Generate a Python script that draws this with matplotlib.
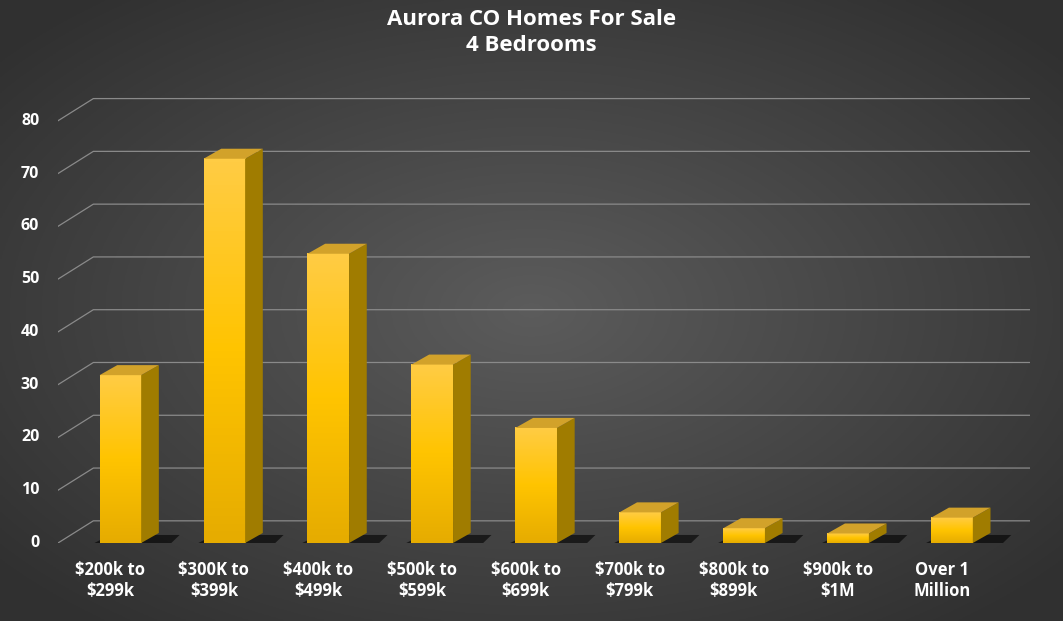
import numpy as np
import matplotlib
matplotlib.use("Agg")
import matplotlib.pyplot as plt
from matplotlib.patches import Polygon
from matplotlib.colors import LinearSegmentedColormap

plt.rcParams['font.family'] = ['Open Sans', 'DejaVu Sans']

categories = ["$200k to\n$299k", "$300K to\n$399k", "$400k to\n$499k", "$500k to\n$599k",
              "$600k to\n$699k", "$700k to\n$799k", "$800k to\n$899k", "$900k to\n$1M",
              "Over 1\nMillion"]
counts = [31, 72, 54, 33, 21, 5, 2, 1, 4]
yticks = [0, 10, 20, 30, 40, 50, 60, 70, 80]

fig = plt.figure(figsize=(10.63, 6.21), dpi=100)

# background radial gradient
bg = fig.add_axes([0, 0, 1, 1])
gx, gy = np.meshgrid(np.linspace(-1, 1, 400), np.linspace(-1, 1, 300))
r = np.sqrt(gx**2 + gy**2)
shade = 0.36 - 0.17 * np.clip(r / 1.3, 0, 1)
bg.imshow(np.dstack([shade] * 3), aspect='auto', extent=[0, 1, 0, 1])
bg.axis('off')

ax = fig.add_axes([58 / 1063, 78 / 621, (1030 - 58) / 1063, (543 - 97) / 621])
ax.axis('off')

x0 = -0.6
wx, wy = 0.34, 4.2   # back wall offset
dx, dy = 0.17, 1.9   # bar depth offset
w = 0.4

# gridlines
for v in yticks:
    ax.plot([x0, x0 + wx, 8.75], [v, v + wy, v + wy], color='#8a8a8a', lw=0.9, zorder=1)
    ax.text(x0 - 0.18, v, str(v), color='white', fontsize=11.5, fontweight='bold',
            ha='right', va='center')

# bars
gradient = np.linspace(0, 1, 100).reshape(-1, 1)
cmap = LinearSegmentedColormap.from_list('gold', ['#E6AC00', '#FFC400', '#FFCC44'])
for i, v in enumerate(counts):
    v = v + 0.8  # front face sits slightly behind the front plane
    l, rgt = i - w / 2, i + w / 2
    ax.add_patch(Polygon([(l - 0.05, 0), (rgt + dx + 0.12, 0), (rgt + dx + 0.2, dy * 0.8),
                          (l + 0.1, dy * 0.8)], closed=True, color='black', alpha=0.6, zorder=2, lw=0))
    ax.imshow(gradient, cmap=cmap, extent=[l, rgt, 0, v], aspect='auto', origin='lower', zorder=3)
    ax.add_patch(Polygon([(rgt, 0), (rgt + dx, dy), (rgt + dx, v + dy), (rgt, v)],
                         closed=True, color='#A07C00', zorder=3, lw=0))
    ax.add_patch(Polygon([(l, v), (rgt, v), (rgt + dx, v + dy), (l + dx, v + dy)],
                         closed=True, color='#D2A22A', zorder=3, lw=0))
    ax.text(i - 0.1, -3.5, categories[i], color='white', fontsize=12, fontweight='bold',
            ha='center', va='top', linespacing=1.2)

ax.set_xlim(-0.6, 8.75)
ax.set_ylim(0, 84.5)

fig.text(0.5, 0.985, "Aurora CO Homes For Sale\n4 Bedrooms", color='white', fontsize=16,
         fontweight='bold', ha='center', va='top', linespacing=1.3)

fig.savefig('out.png', dpi=100)
